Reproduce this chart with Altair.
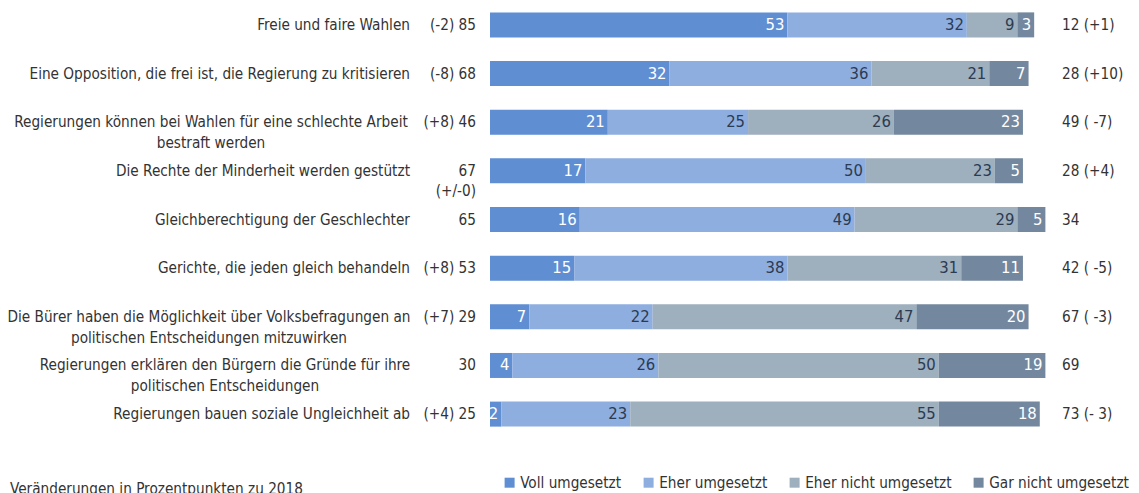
import altair as alt
import pandas as pd

categories = [
    "Freie und faire Wahlen",
    "Eine Opposition, die frei ist, die Regierung zu kritisieren",
    "Regierungen können bei Wahlen für eine schlechte Arbeit\nbestraft werden",
    "Die Rechte der Minderheit werden gestützt",
    "Gleichberechtigung der Geschlechter",
    "Gerichte, die jeden gleich behandeln",
    "Die Bürer haben die Möglichkeit über Volksbefragungen an\npolitischen Entscheidungen mitzuwirken",
    "Regierungen erklären den Bürgern die Gründe für ihre\npolitischen Entscheidungen",
    "Regierungen bauen soziale Ungleichheit ab",
]
series = ["Voll umgesetzt", "Eher umgesetzt", "Eher nicht umgesetzt", "Gar nicht umgesetzt"]
voll = [53, 32, 21, 17, 16, 15, 7, 4, 2]
eher = [32, 36, 25, 50, 49, 38, 22, 26, 23]
eher_nicht = [9, 21, 26, 23, 29, 31, 47, 50, 55]
gar_nicht = [3, 7, 23, 5, 5, 11, 20, 19, 18]
left_labels = ["(-2) 85", "(-8) 68", "(+8) 46", "67\n(+/-0)", "65", "(+8) 53", "(+7) 29", "30", "(+4) 25"]
right_labels = ["12 (+1)", "28 (+10)", "49 ( -7)", "28 (+4)", "34", "42 ( -5)", "67 ( -3)", "69", "73 (- 3)"]
note = "Veränderungen in Prozentpunkten zu 2018"

colors = ["#5f8ed3", "#8faee0", "#9eafbe", "#73889f"]
FONT = "DejaVu Sans Condensed, DejaVu Sans, sans-serif"
FS = 15.2
TXT = "#333333"
DARK = "#2b3b52"

rows = []
for i, c in enumerate(categories):
    for j, vals in enumerate([voll, eher, eher_nicht, gar_nicht]):
        rows.append({"cat": c, "series": series[j], "order": j, "value": vals[i]})
df = pd.DataFrame(rows)
info = pd.DataFrame({"cat": categories, "left": left_labels, "right": right_labels})

y = alt.Y("cat:N", sort=categories, axis=None,
          scale=alt.Scale(paddingInner=0.486, paddingOuter=0.09))

base = alt.Chart(df).transform_stack(
    stack="value", groupby=["cat"], as_=["v0", "v1"], sort=[alt.SortField("order")]
)

bars = base.mark_bar().encode(
    x=alt.X("v0:Q", scale=alt.Scale(domain=[0, 100]), axis=None),
    x2="v1:Q",
    y=y,
    color=alt.Color(
        "series:N",
        scale=alt.Scale(domain=series, range=colors),
        legend=alt.Legend(
            orient="none", legendX=12, legendY=467, direction="horizontal",
            title=None, symbolType="square", symbolSize=100, symbolStrokeWidth=0,
            labelFont=FONT, labelFontSize=FS, labelColor=TXT, columnPadding=19,
            labelOffset=3, labelLimit=300,
        ),
    ),
)

seg_white = base.transform_filter(
    alt.FieldOneOfPredicate(field="series", oneOf=[series[0], series[3]])
).mark_text(align="right", baseline="middle", dx=-3, font=FONT, fontSize=16.5, color="white").encode(
    x="v1:Q", y=y, text="value:Q"
)
seg_dark = base.transform_filter(
    alt.FieldOneOfPredicate(field="series", oneOf=[series[1], series[2]])
).mark_text(align="right", baseline="middle", dx=-3, font=FONT, fontSize=16.5, color=DARK).encode(
    x="v1:Q", y=y, text="value:Q"
)

info_base = alt.Chart(info)

left = info_base.mark_text(align="right", baseline="middle", lineBreak="\n", lineHeight=20,
                           font=FONT, fontSize=FS, color=TXT).encode(
    x=alt.value(-14), y=y, text="left:N"
)
right = info_base.mark_text(align="left", baseline="middle", font=FONT, fontSize=FS, color=TXT).encode(
    x=alt.value(572), y=y, text="right:N"
)

single = info_base.transform_filter(
    "indexof(datum.cat, '\\n') < 0"
).mark_text(align="right", baseline="middle", font=FONT, fontSize=FS, color=TXT).encode(
    x=alt.value(-80), y=y, text="cat:N"
)

multi_centers = {2: -279, 6: -281, 7: -265}
multi_layers = []
for idx, cx in multi_centers.items():
    multi_layers.append(
        info_base.transform_filter(alt.FieldEqualPredicate(field="cat", equal=categories[idx]))
        .mark_text(align="center", baseline="middle", lineBreak="\n", lineHeight=21,
                   font=FONT, fontSize=FS, color=TXT)
        .encode(x=alt.value(cx), y=y, text="cat:N")
    )

note_layer = alt.Chart(pd.DataFrame({"t": [note]})).mark_text(
    align="left", baseline="middle", font=FONT, fontSize=FS, color=TXT
).encode(x=alt.value(-480), y=alt.value(481), text="t:N")

chart = alt.layer(bars, seg_white, seg_dark, left, right, single, *multi_layers, note_layer).properties(
    width=561, height=423,
    background="white",
    autosize=alt.AutoSizeParams(type="none"),
    padding={"left": 482, "top": 0, "right": 80, "bottom": 70},
).configure_view(strokeWidth=0)

chart.save("out.html", embed_options={"renderer": "svg", "actions": False})
